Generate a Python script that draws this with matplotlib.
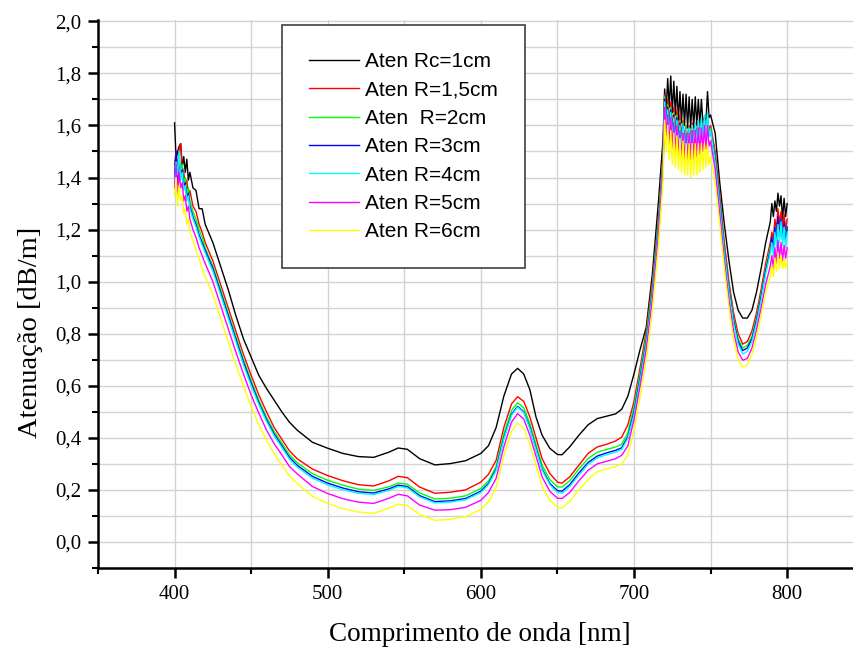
import matplotlib
matplotlib.use("Agg")
import matplotlib.pyplot as plt
from matplotlib.ticker import MultipleLocator, FuncFormatter

# wavelength grid [nm]
wl = ([400, 401, 402, 403, 404, 405, 406, 407, 408, 409, 410, 412, 414, 416, 418, 420]
      + [425, 430, 435, 440, 445, 450, 455, 460, 465, 470, 475, 480, 490, 500, 510, 520,
         530, 540, 546, 552, 560, 570, 580, 590, 600, 605, 610, 615, 620, 624, 628, 632,
         636, 640, 645, 650, 653, 658, 664, 670, 676, 682, 688, 692, 696, 700, 704, 708,
         712, 716, 719]
      + list(range(720, 751))
      + [753, 756, 759, 762, 765, 768, 771, 774, 777, 780, 783, 786, 789, 790, 791, 792,
         793, 794, 795, 796, 797, 798, 799, 800])

aten_r1 = [1.61, 1.47, 1.50, 1.52, 1.53, 1.44, 1.48, 1.42, 1.47, 1.39, 1.42, 1.36, 1.35, 1.28, 1.28, 1.22,
           1.15, 1.06, 0.97, 0.87, 0.78, 0.71, 0.64, 0.59, 0.545, 0.50, 0.46, 0.43, 0.383, 0.36, 0.34, 0.328,
           0.325, 0.345, 0.361, 0.356, 0.32, 0.296, 0.301, 0.312, 0.34, 0.37, 0.44, 0.56, 0.645, 0.667, 0.645, 0.585,
           0.48, 0.41, 0.36, 0.336, 0.335, 0.365, 0.41, 0.45, 0.474, 0.483, 0.492, 0.51, 0.56, 0.646, 0.74, 0.825,
           1.03, 1.31, 1.55,
           1.74, 1.66, 1.78, 1.67, 1.79, 1.65, 1.77, 1.64, 1.75, 1.62, 1.73, 1.61, 1.72, 1.60, 1.72, 1.59,
           1.71, 1.59, 1.70, 1.59, 1.71, 1.60, 1.70, 1.60, 1.70, 1.61, 1.63, 1.62, 1.73, 1.63, 1.64,
           1.57, 1.38, 1.22, 1.08, 0.96, 0.89, 0.86, 0.86, 0.89, 0.96, 1.05, 1.15, 1.23, 1.30, 1.25, 1.31,
           1.27, 1.34, 1.29, 1.33, 1.24, 1.32, 1.25, 1.30]

aten_r15 = [1.45, 1.50, 1.42, 1.51, 1.53, 1.44, 1.42, 1.37, 1.39, 1.33, 1.35, 1.29, 1.27, 1.22, 1.19, 1.15,
            1.08, 0.99, 0.90, 0.81, 0.72, 0.64, 0.565, 0.50, 0.44, 0.395, 0.35, 0.32, 0.28, 0.255, 0.235, 0.22,
            0.215, 0.235, 0.252, 0.247, 0.211, 0.187, 0.191, 0.20, 0.23, 0.26, 0.314, 0.44, 0.53, 0.558, 0.54, 0.48,
            0.40, 0.32, 0.263, 0.23, 0.226, 0.25, 0.295, 0.34, 0.365, 0.375, 0.388, 0.403, 0.45, 0.54, 0.67, 0.81,
            1.00, 1.25, 1.50,
            1.72, 1.62, 1.70, 1.60, 1.69, 1.58, 1.67, 1.57, 1.66, 1.56, 1.64, 1.55, 1.62, 1.54, 1.60, 1.54,
            1.60, 1.55, 1.61, 1.55, 1.61, 1.56, 1.62, 1.57, 1.62, 1.58, 1.63, 1.58, 1.63, 1.58, 1.60,
            1.50, 1.33, 1.15, 1.00, 0.88, 0.80, 0.76, 0.77, 0.81, 0.88, 0.97, 1.07, 1.15, 1.19, 1.16, 1.24,
            1.20, 1.28, 1.22, 1.27, 1.21, 1.26, 1.20, 1.24]

aten_r2 = [1.42, 1.48, 1.40, 1.49, 1.43, 1.45, 1.38, 1.40, 1.34, 1.36, 1.31, 1.27, 1.24, 1.20, 1.17, 1.13,
           1.06, 0.97, 0.88, 0.79, 0.70, 0.62, 0.545, 0.48, 0.425, 0.38, 0.335, 0.305, 0.262, 0.237, 0.218, 0.203,
           0.198, 0.212, 0.226, 0.222, 0.188, 0.165, 0.168, 0.177, 0.205, 0.235, 0.29, 0.415, 0.505, 0.535, 0.515, 0.455,
           0.375, 0.295, 0.24, 0.212, 0.211, 0.235, 0.28, 0.32, 0.345, 0.355, 0.365, 0.375, 0.42, 0.52, 0.65, 0.79,
           0.98, 1.23, 1.48,
           1.71, 1.60, 1.68, 1.58, 1.67, 1.56, 1.65, 1.55, 1.64, 1.54, 1.62, 1.53, 1.61, 1.52, 1.60, 1.52,
           1.59, 1.53, 1.60, 1.53, 1.60, 1.54, 1.61, 1.55, 1.61, 1.56, 1.62, 1.57, 1.62, 1.57, 1.59,
           1.48, 1.31, 1.13, 0.98, 0.86, 0.78, 0.745, 0.755, 0.79, 0.86, 0.95, 1.05, 1.13, 1.16, 1.13, 1.20,
           1.16, 1.23, 1.18, 1.24, 1.17, 1.22, 1.16, 1.20]

aten_r3 = [1.40, 1.50, 1.38, 1.47, 1.41, 1.43, 1.36, 1.38, 1.32, 1.34, 1.29, 1.25, 1.22, 1.18, 1.15, 1.12,
           1.05, 0.96, 0.87, 0.78, 0.69, 0.61, 0.535, 0.47, 0.415, 0.37, 0.325, 0.295, 0.252, 0.226, 0.207, 0.193,
           0.188, 0.204, 0.218, 0.213, 0.178, 0.155, 0.158, 0.167, 0.195, 0.225, 0.28, 0.40, 0.49, 0.521, 0.50, 0.44,
           0.36, 0.28, 0.225, 0.197, 0.195, 0.22, 0.265, 0.305, 0.33, 0.342, 0.352, 0.362, 0.405, 0.50, 0.63, 0.77,
           0.96, 1.21, 1.46,
           1.70, 1.59, 1.67, 1.57, 1.66, 1.55, 1.64, 1.54, 1.63, 1.53, 1.61, 1.52, 1.60, 1.51, 1.59, 1.51,
           1.58, 1.52, 1.59, 1.52, 1.60, 1.53, 1.61, 1.54, 1.61, 1.55, 1.62, 1.56, 1.62, 1.56, 1.58,
           1.47, 1.30, 1.12, 0.97, 0.85, 0.77, 0.735, 0.745, 0.78, 0.85, 0.94, 1.04, 1.12, 1.17, 1.12, 1.21,
           1.15, 1.25, 1.17, 1.24, 1.16, 1.23, 1.15, 1.21]

aten_r4 = [1.38, 1.46, 1.41, 1.50, 1.39, 1.42, 1.35, 1.37, 1.31, 1.33, 1.28, 1.24, 1.21, 1.17, 1.14, 1.11,
           1.04, 0.95, 0.86, 0.77, 0.68, 0.60, 0.528, 0.463, 0.408, 0.363, 0.318, 0.288, 0.245, 0.219, 0.20, 0.187,
           0.182, 0.198, 0.213, 0.208, 0.173, 0.15, 0.153, 0.162, 0.19, 0.22, 0.275, 0.395, 0.486, 0.518, 0.497, 0.435,
           0.355, 0.275, 0.22, 0.19, 0.187, 0.212, 0.257, 0.298, 0.323, 0.335, 0.345, 0.355, 0.398, 0.49, 0.62, 0.76,
           0.95, 1.20, 1.45,
           1.69, 1.58, 1.66, 1.56, 1.65, 1.54, 1.63, 1.53, 1.62, 1.52, 1.60, 1.51, 1.60, 1.50, 1.59, 1.50,
           1.59, 1.51, 1.60, 1.51, 1.61, 1.52, 1.62, 1.53, 1.63, 1.54, 1.64, 1.55, 1.65, 1.56, 1.58,
           1.46, 1.29, 1.11, 0.96, 0.84, 0.76, 0.722, 0.732, 0.77, 0.84, 0.93, 1.03, 1.11, 1.15, 1.10, 1.19,
           1.13, 1.22, 1.15, 1.23, 1.14, 1.21, 1.13, 1.19]

aten_r5 = [1.36, 1.45, 1.33, 1.42, 1.36, 1.38, 1.31, 1.33, 1.27, 1.29, 1.24, 1.20, 1.17, 1.13, 1.10, 1.07,
           1.00, 0.91, 0.82, 0.73, 0.645, 0.565, 0.495, 0.43, 0.378, 0.335, 0.29, 0.262, 0.213, 0.186, 0.166, 0.153,
           0.148, 0.168, 0.183, 0.177, 0.142, 0.122, 0.124, 0.133, 0.16, 0.19, 0.245, 0.365, 0.46, 0.493, 0.472, 0.41,
           0.33, 0.25, 0.195, 0.168, 0.167, 0.19, 0.235, 0.275, 0.30, 0.31, 0.32, 0.333, 0.37, 0.47, 0.60, 0.74,
           0.93, 1.18, 1.43,
           1.67, 1.56, 1.64, 1.53, 1.63, 1.51, 1.61, 1.49, 1.60, 1.48, 1.58, 1.47, 1.57, 1.46, 1.57, 1.46,
           1.57, 1.47, 1.58, 1.47, 1.58, 1.48, 1.59, 1.49, 1.59, 1.50, 1.60, 1.51, 1.60, 1.52, 1.54,
           1.43, 1.26, 1.08, 0.93, 0.81, 0.73, 0.698, 0.705, 0.745, 0.815, 0.90, 0.99, 1.06, 1.10, 1.05, 1.13,
           1.07, 1.16, 1.09, 1.15, 1.08, 1.14, 1.09, 1.13]

aten_r6 = [1.33, 1.40, 1.29, 1.37, 1.31, 1.33, 1.26, 1.28, 1.22, 1.24, 1.19, 1.16, 1.12, 1.09, 1.05, 1.02,
           0.95, 0.86, 0.77, 0.68, 0.60, 0.52, 0.45, 0.39, 0.34, 0.295, 0.255, 0.225, 0.175, 0.148, 0.128, 0.115,
           0.11, 0.13, 0.145, 0.14, 0.105, 0.083, 0.087, 0.097, 0.125, 0.155, 0.21, 0.33, 0.425, 0.457, 0.437, 0.375,
           0.295, 0.215, 0.16, 0.133, 0.131, 0.155, 0.20, 0.24, 0.27, 0.28, 0.29, 0.30, 0.335, 0.43, 0.56, 0.70,
           0.89, 1.14, 1.39,
           1.62, 1.50, 1.60, 1.47, 1.58, 1.45, 1.57, 1.44, 1.56, 1.43, 1.55, 1.42, 1.54, 1.41, 1.53, 1.41,
           1.53, 1.40, 1.53, 1.41, 1.53, 1.41, 1.53, 1.42, 1.53, 1.43, 1.53, 1.44, 1.53, 1.45, 1.48,
           1.38, 1.22, 1.05, 0.90, 0.78, 0.70, 0.672, 0.68, 0.72, 0.79, 0.87, 0.96, 1.02, 1.06, 1.02, 1.09,
           1.04, 1.11, 1.05, 1.10, 1.05, 1.09, 1.05, 1.08]

series = [aten_r1, aten_r15, aten_r2, aten_r3, aten_r4, aten_r5, aten_r6]
labels = ["Aten Rc=1cm", "Aten R=1,5cm", "Aten  R=2cm", "Aten R=3cm",
          "Aten R=4cm", "Aten R=5cm", "Aten R=6cm"]
colors = ["#000000", "#ff0000", "#00ff00", "#0000ff", "#00ffff", "#ff00ff", "#ffff00"]

fig = plt.figure(figsize=(8.54, 6.5), dpi=100)
ax = fig.add_axes([98 / 854, 82 / 650, 755 / 854, 548 / 650])

for vals, lab, col in zip(series, labels, colors):
    ax.plot(wl, vals, color=col, lw=1.0, label=lab)

ax.set_xlim(350, 843)
ax.set_ylim(-0.1, 2.005)

ax.xaxis.set_major_locator(MultipleLocator(100))
ax.xaxis.set_minor_locator(MultipleLocator(50))
ax.yaxis.set_major_locator(MultipleLocator(0.2))
ax.yaxis.set_minor_locator(MultipleLocator(0.1))
ax.yaxis.set_major_formatter(FuncFormatter(lambda v, p: f"{v:.1f}".replace(".", ",")))

ax.grid(True, which="both", color="#d3d3d3", lw=1.0)
ax.set_axisbelow(True)

for s in ["top", "right"]:
    ax.spines[s].set_visible(False)
for s in ["left", "bottom"]:
    ax.spines[s].set_linewidth(1.8)

ax.tick_params(which="major", direction="out", length=7, width=1.8,
               labelsize=15, pad=5)
ax.tick_params(which="minor", direction="out", length=4, width=1.5)
for lbl in ax.get_xticklabels() + ax.get_yticklabels():
    lbl.set_family("Liberation Serif")

ax.set_xlabel("Comprimento de onda [nm]", family="Liberation Serif", fontsize=19.5)
ax.set_ylabel("Atenuação [dB/m]", family="Liberation Serif", fontsize=20.5)
ax.xaxis.set_label_coords((480 - 98) / 755, (568 - 622) / 548)
ax.yaxis.set_label_coords((43 - 98) / 755, (568 - 332) / 548)

leg = ax.legend(loc="upper left", bbox_to_anchor=(282 / 854, 1 - 25 / 650),
                bbox_transform=fig.transFigure, borderaxespad=0,
                prop={"family": "Liberation Sans", "size": 15},
                handlelength=2.4, handletextpad=0.3, labelspacing=0.45,
                borderpad=1.3, fancybox=False, framealpha=1)
leg.get_frame().set_edgecolor("#404040")
leg.get_frame().set_linewidth(1.2)

fig.savefig("out.png", dpi=100)
